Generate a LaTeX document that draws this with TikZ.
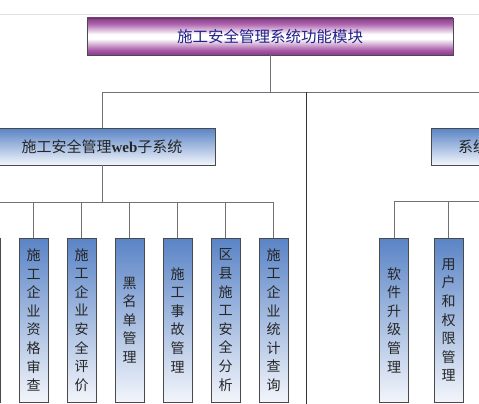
\documentclass[tikz,border=0pt]{standalone}
\usepackage{fontspec}
\setmainfont{Liberation Serif}
\newfontfamily\cjk{Noto Sans CJK SC}
\definecolor{pur}{HTML}{9A3F9A}
\definecolor{navy}{HTML}{22228A}
\definecolor{bluetop}{HTML}{5A84C6}
\definecolor{bluebot}{HTML}{F2F5FB}
\definecolor{conn}{HTML}{6E7378}
\definecolor{bord}{HTML}{4A4A4A}
\pgfdeclareverticalshading{purshade}{100bp}{color(0bp)=(pur!90!black); color(25bp)=(pur!90!black); color(32bp)=(pur!85!white); color(47bp)=(white); color(53bp)=(white); color(67bp)=(pur!80!white); color(75bp)=(pur!90!black); color(100bp)=(pur!90!black)}
\begin{document}
\begin{tikzpicture}[x=1pt,y=-1pt,
  topbox/.style={draw=bord, line width=0.8pt, inner sep=0pt, minimum width=366pt, minimum height=37pt,
     shading=purshade, text=navy, font=\cjk\fontsize{15.5}{18}\selectfont},
  subbox/.style={draw=bord, line width=0.8pt, inner sep=0pt, minimum width=226pt, minimum height=37pt,
     top color=bluetop, bottom color=bluebot, text=black!85, font=\fontsize{15}{18}\selectfont},
  leaf/.style={draw=bord, line width=0.8pt, inner sep=0pt, minimum width=29pt, minimum height=164pt,
     top color=bluetop, bottom color=bluebot, text=black!85, align=center,
     font=\cjk\fontsize{14}{18.6}\selectfont},
  line/.style={draw=conn, line width=0.8pt},
  darkline/.style={draw=black!80, line width=0.8pt}]
\useasboundingbox (0,0) rectangle (479,404);
\clip (0,0) rectangle (479,404);
\fill[white] (0,0) rectangle (479,404);
\draw[black!12, line width=0.6pt] (0,14) -- (479,14);

% nodes
\node[topbox] (top) at (270,36.5) {施工安全管理系统功能模块};
\node[subbox] (web) at (102,146.5) {{\cjk 施工安全管理}\textbf{web}{\cjk 子系统}};
\node[subbox] (sys) at (544,146.5) {};
\node[anchor=west, inner sep=0pt, text=black!85, font=\cjk\fontsize{15}{18}\selectfont] (systext) at (458,146.5) {系统};

\node[leaf] (c0) at (-14.5,320) {};
\node[leaf] (c1) at (33.5,320) {施\\工\\企\\业\\资\\格\\审\\查};
\node[leaf] (c2) at (81.5,320) {施\\工\\企\\业\\安\\全\\评\\价};
\node[leaf] (c3) at (129.5,320) {黑\\名\\单\\管\\理};
\node[leaf] (c4) at (177.5,320) {施\\工\\事\\故\\管\\理};
\node[leaf] (c5) at (225.5,320) {区\\县\\施\\工\\安\\全\\分\\析};
\node[leaf] (c6) at (273.5,320) {施\\工\\企\\业\\统\\计\\查\\询};

\node[leaf] (r1) at (394,320) {软\\件\\升\\级\\管\\理};
\node[leaf] (r2) at (448.5,320) {用\\户\\和\\权\\限\\管\\理};

% coordinates
\coordinate (b1L) at (102,92);
\coordinate (b1R) at (500,92);
\coordinate (mid) at (306,92);
\coordinate (midB) at (306,420);
\coordinate (b2L) at (-30,202);
\coordinate (b2R) at (273.5,202);
\coordinate (b3L) at (394,201);
\coordinate (b3R) at (500,201);

% connectors
\draw[line] (top.south) -- (top.south |- b1L);
\draw[line] (b1L) -- (b1R);
\draw[line] (b1L) -- (web.north);
\draw[darkline] (mid) -- (midB);
\draw[line] (web.south) -- (web.south |- b2L);
\draw[line] (b2L) -- (b2R);
\foreach \c in {c0,c1,c2,c3,c4,c5,c6}{
  \draw[line] (\c.north |- b2L) -- (\c.north);
}
\draw[line] (b3L) -- (b3R);
\foreach \c in {r1,r2}{
  \draw[line] (\c.north |- b3L) -- (\c.north);
}
\end{tikzpicture}
\end{document}
